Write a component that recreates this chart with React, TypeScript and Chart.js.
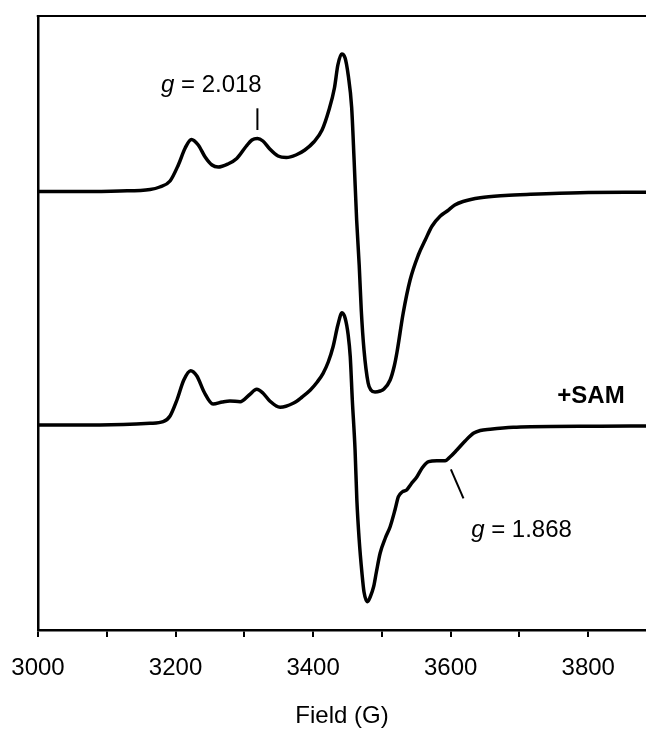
import { useEffect, useRef } from "react";
import { Chart, registerables } from "chart.js";

Chart.register(...registerables);

// Field axis (G)
const xMin = 3000;
const xMax = 3884;
const xTickValues = [3000, 3100, 3200, 3300, 3400, 3500, 3600, 3700, 3800];
const xLabelStep = 200;
const xTitle = "Field (G)";

// Signal axis (arbitrary units)
const yMin = 0;
const yMax = 614;

// Native spectrum (upper trace)
const fieldNative = [3000, 3061, 3119, 3163, 3177, 3192, 3204, 3214, 3223, 3233, 3243, 3253, 3262, 3276, 3289, 3303, 3311, 3319, 3327, 3337, 3349, 3361, 3375, 3388, 3401, 3413, 3423, 3431, 3436, 3441.5, 3446.5, 3451, 3456, 3459.6, 3463.3, 3467, 3470, 3474, 3480, 3484, 3490, 3497.5, 3503, 3512, 3518, 3522, 3531, 3541, 3553, 3563, 3573, 3585, 3595, 3606, 3618, 3643, 3679, 3716, 3788, 3884];
const signalNative = [438.5, 438.5, 439, 440.5, 443, 449, 465, 482, 490.5, 485, 473, 465, 463, 466, 471.5, 484, 490, 491.5, 489, 481, 474, 472.5, 475, 480, 488, 500, 520, 542, 565, 576, 572, 555, 523, 470, 410, 365, 320, 280, 247, 240, 238, 239, 241, 250, 264, 278, 317, 350, 375, 390, 404, 414, 419, 425, 428.5, 432.3, 434.5, 435.7, 437.3, 437.7];

// +SAM spectrum (lower trace)
const fieldSAM = [3000, 3090, 3163, 3182, 3192, 3202, 3212, 3222, 3231, 3241.5, 3254.5, 3268, 3279, 3294, 3307, 3318, 3327, 3337, 3352, 3371, 3384, 3396, 3406, 3414.5, 3422, 3429, 3436, 3442, 3446.5, 3451, 3454, 3457, 3461, 3463.6, 3467, 3471, 3474, 3479, 3483, 3488, 3492, 3497.5, 3505, 3512, 3519, 3524, 3529.5, 3536, 3542.5, 3551, 3558.5, 3568, 3580, 3592, 3599, 3609, 3621, 3633, 3643, 3657.5, 3691, 3716, 3817, 3884];
const signalSAM = [205, 205, 206.7, 208.3, 214, 230, 250, 259.3, 254, 238, 226, 228, 229, 228.3, 235, 240.7, 237, 229, 222.7, 226.7, 233, 240, 248, 256.7, 268, 283.3, 305, 317.3, 312, 295, 273.3, 230, 180, 130, 90, 57, 38, 28.3, 33, 43.3, 58, 77, 92, 103.3, 120, 133.3, 138, 140, 146, 153.3, 162, 168.3, 169.3, 169.3, 173, 180, 189, 196.7, 199.5, 200.7, 202.7, 203.3, 203.8, 204];

// Annotations: g-value labels (field, signal of text centre/baseline) and marker lines
const gValues = ["2.018", "1.868"];
const gLabelField = [3252, 3703];
const gLabelSignal = [538.3, 93.3];
const gLineField = [[3319, 3319], [3600.3, 3618.6]];
const gLineSignal = [[521.7, 500], [160.7, 131.7]];
const samLabel = "+SAM";
const samField = 3804;
const samSignal = 226.7;

const FONT = "Arial, 'Liberation Sans', sans-serif";

const annotationPlugin = {
  id: "epr-annotations",
  afterDraw(chart: any) {
    const { ctx, chartArea, scales } = chart;
    const xs = scales.x;
    const ys = scales.y;
    ctx.save();
    // top frame line
    ctx.strokeStyle = "#000";
    ctx.lineWidth = 2;
    ctx.beginPath();
    ctx.moveTo(chartArea.left - 1.25, chartArea.top);
    ctx.lineTo(chartArea.right, chartArea.top);
    ctx.stroke();

    // marker lines
    ctx.lineWidth = 2;
    for (let i = 0; i < gLineField.length; i++) {
      ctx.beginPath();
      ctx.moveTo(xs.getPixelForValue(gLineField[i][0]), ys.getPixelForValue(gLineSignal[i][0]));
      ctx.lineTo(xs.getPixelForValue(gLineField[i][1]), ys.getPixelForValue(gLineSignal[i][1]));
      ctx.stroke();
    }

    // g labels
    ctx.fillStyle = "#000";
    ctx.textBaseline = "alphabetic";
    ctx.textAlign = "left";
    for (let i = 0; i < gValues.length; i++) {
      const cx = xs.getPixelForValue(gLabelField[i]);
      const by = ys.getPixelForValue(gLabelSignal[i]);
      ctx.font = `italic 24px ${FONT}`;
      const w1 = ctx.measureText("g").width;
      const rest = " = " + gValues[i];
      ctx.font = `24px ${FONT}`;
      const w2 = ctx.measureText(rest).width;
      const x0 = cx - (w1 + w2) / 2;
      ctx.font = `italic 24px ${FONT}`;
      ctx.fillText("g", x0, by);
      ctx.font = `24px ${FONT}`;
      ctx.fillText(rest, x0 + w1, by);
    }

    // +SAM label
    ctx.font = `bold 24px ${FONT}`;
    ctx.textAlign = "center";
    ctx.fillText(samLabel, xs.getPixelForValue(samField), ys.getPixelForValue(samSignal));
    ctx.restore();
  },
};

export default function App() {
  const ref = useRef<HTMLCanvasElement | null>(null);
  useEffect(() => {
    if (!ref.current) return;
    const chart = new Chart(ref.current, {
      type: "line",
      data: {
        datasets: [
          {
            label: "native",
            data: fieldNative.map((x, i) => ({ x, y: signalNative[i] })),
            borderColor: "#000",
            borderWidth: 3.5,
            pointRadius: 0,
            cubicInterpolationMode: "monotone",
            fill: false,
          },
          {
            label: "+SAM",
            data: fieldSAM.map((x, i) => ({ x, y: signalSAM[i] })),
            borderColor: "#000",
            borderWidth: 3.5,
            pointRadius: 0,
            cubicInterpolationMode: "monotone",
            fill: false,
          },
        ],
      },
      options: {
        animation: false,
        responsive: false,
        maintainAspectRatio: false,
        layout: { padding: { top: 16, left: 0, right: 0, bottom: 0 } },
        plugins: { legend: { display: false }, tooltip: { enabled: false } },
        scales: {
          x: {
            type: "linear",
            min: xMin,
            max: xMax,
            afterBuildTicks: (s: any) => {
              s.ticks = xTickValues.map((v) => ({ value: v }));
            },
            afterFit: (s: any) => {
              s.height = 99;
              s.paddingLeft = 0;
              s.paddingRight = 0;
            },
            ticks: {
              autoSkip: false,
              maxRotation: 0,
              padding: 19,
              color: "#000",
              font: { family: FONT, size: 24, lineHeight: 1 },
              callback: (v: any) => (Number(v) % xLabelStep === 0 ? String(v) : ""),
            },
            grid: {
              display: true,
              drawOnChartArea: false,
              drawTicks: true,
              tickLength: 7,
              color: "#000",
              lineWidth: 2,
            },
            border: { display: true, color: "#000", width: 2.5 },
            title: {
              display: true,
              text: xTitle,
              color: "#000",
              font: { family: FONT, size: 24, lineHeight: 1 },
              padding: { top: 0, bottom: 1 },
            },
          },
          y: {
            type: "linear",
            min: yMin,
            max: yMax,
            afterFit: (s: any) => {
              s.width = 38;
            },
            ticks: { display: false },
            grid: { display: false },
            border: { display: true, color: "#000", width: 2.5 },
          },
        },
      },
      plugins: [annotationPlugin],
    });
    return () => chart.destroy();
  }, []);
  return (
    <div style={{ position: "fixed", left: 0, top: 0, width: 646, height: 729, background: "#fff" }}>
      <canvas ref={ref} width={646} height={729} style={{ display: "block" }} />
    </div>
  );
}
